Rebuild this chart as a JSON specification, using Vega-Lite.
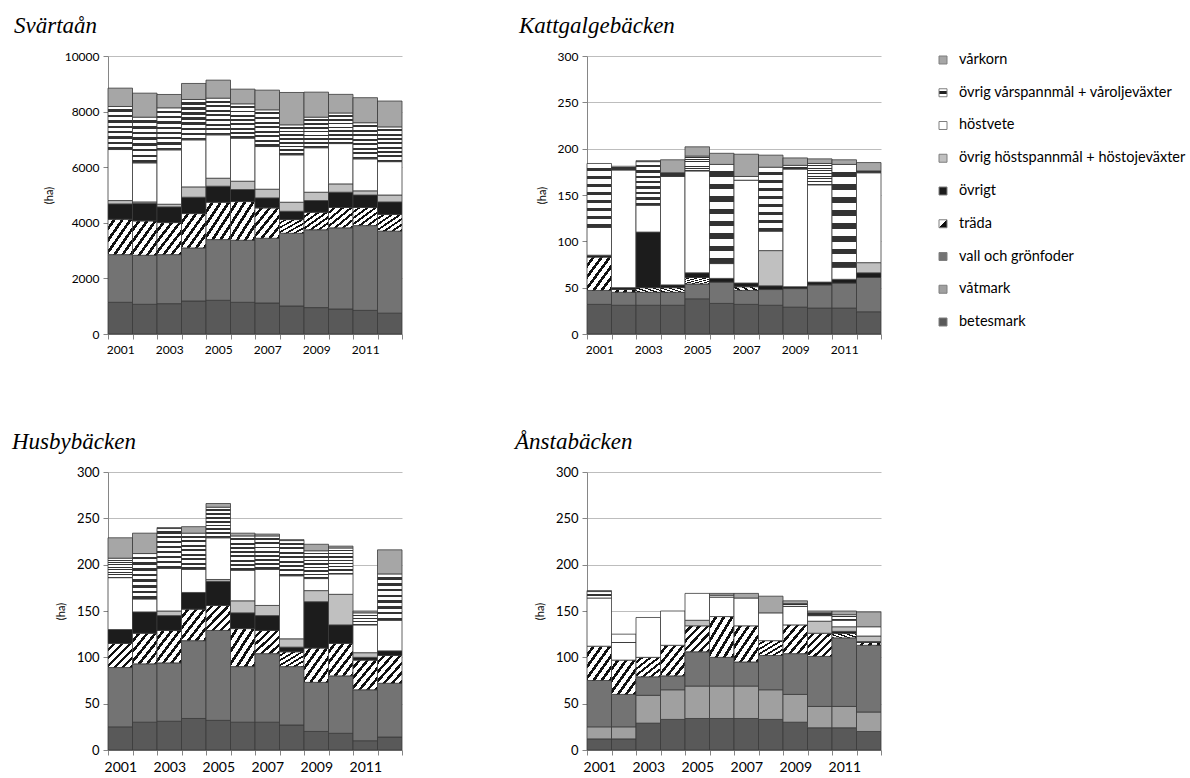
{
  "$schema": "https://vega.github.io/schema/vega-lite/v6.json",
  "padding": {"left": 12, "top": 15, "right": 5, "bottom": 0},
  "data": {"values": [
    {"panel":"Svärtaån","year":"2001","betesmark":1140,"våtmark":0,"vall och grönfoder":1716,"träda":1272,"övrigt":552,"övrig höstspannmål + höstojeväxter":120,"höstvete":1836,"övrig vårspannmål + våroljeväxter":1548,"vårkorn":660},
    {"panel":"Svärtaån","year":"2002","betesmark":1068,"våtmark":0,"vall och grönfoder":1764,"träda":1236,"övrigt":636,"övrig höstspannmål + höstojeväxter":48,"höstvete":1404,"övrig vårspannmål + våroljeväxter":1644,"vårkorn":864},
    {"panel":"Svärtaån","year":"2003","betesmark":1092,"våtmark":0,"vall och grönfoder":1764,"träda":1152,"övrigt":564,"övrig höstspannmål + höstojeväxter":96,"höstvete":1956,"övrig vårspannmål + våroljeväxter":1512,"vårkorn":480},
    {"panel":"Svärtaån","year":"2004","betesmark":1188,"våtmark":0,"vall och grönfoder":1908,"träda":1236,"övrigt":588,"övrig höstspannmål + höstojeväxter":372,"höstvete":1692,"övrig vårspannmål + våroljeväxter":1452,"vårkorn":576},
    {"panel":"Svärtaån","year":"2005","betesmark":1212,"våtmark":0,"vall och grönfoder":2184,"träda":1344,"övrigt":576,"övrig höstspannmål + höstojeväxter":288,"höstvete":1560,"övrig vårspannmål + våroljeväxter":1320,"vårkorn":648},
    {"panel":"Svärtaån","year":"2006","betesmark":1140,"våtmark":0,"vall och grönfoder":2232,"träda":1392,"övrigt":432,"övrig höstspannmål + höstojeväxter":300,"höstvete":1548,"övrig vårspannmål + våroljeväxter":1236,"vårkorn":528},
    {"panel":"Svärtaån","year":"2007","betesmark":1116,"våtmark":0,"vall och grönfoder":2328,"träda":1092,"övrigt":360,"övrig höstspannmål + höstojeväxter":312,"höstvete":1536,"övrig vårspannmål + våroljeväxter":1320,"vårkorn":708},
    {"panel":"Svärtaån","year":"2008","betesmark":1008,"våtmark":0,"vall och grönfoder":2616,"träda":492,"övrigt":300,"övrig höstspannmål + höstojeväxter":324,"höstvete":1704,"övrig vårspannmål + våroljeväxter":1080,"vårkorn":1164},
    {"panel":"Svärtaån","year":"2009","betesmark":950,"våtmark":0,"vall och grönfoder":2800,"träda":630,"övrigt":420,"övrig höstspannmål + höstojeväxter":300,"höstvete":1600,"övrig vårspannmål + våroljeväxter":1100,"vårkorn":900},
    {"panel":"Svärtaån","year":"2010","betesmark":900,"våtmark":0,"vall och grönfoder":2920,"träda":730,"övrigt":550,"övrig höstspannmål + höstojeväxter":300,"höstvete":1450,"övrig vårspannmål + våroljeväxter":1100,"vårkorn":670},
    {"panel":"Svärtaån","year":"2011","betesmark":850,"våtmark":0,"vall och grönfoder":3050,"träda":650,"övrigt":450,"övrig höstspannmål + höstojeväxter":150,"höstvete":1150,"övrig vårspannmål + våroljeväxter":1300,"vårkorn":900},
    {"panel":"Svärtaån","year":"2012","betesmark":750,"våtmark":0,"vall och grönfoder":2950,"träda":600,"övrigt":450,"övrig höstspannmål + höstojeväxter":250,"höstvete":1200,"övrig vårspannmål + våroljeväxter":1250,"vårkorn":930},

    {"panel":"Kattgalgebäcken","year":"2001","betesmark":32,"våtmark":0,"vall och grönfoder":15,"träda":36,"övrigt":2,"övrig höstspannmål + höstojeväxter":0,"höstvete":30,"övrig vårspannmål + våroljeväxter":69,"vårkorn":0},
    {"panel":"Kattgalgebäcken","year":"2002","betesmark":31,"våtmark":0,"vall och grönfoder":14,"träda":3,"övrigt":2,"övrig höstspannmål + höstojeväxter":0,"höstvete":127,"övrig vårspannmål + våroljeväxter":4,"vårkorn":0},
    {"panel":"Kattgalgebäcken","year":"2003","betesmark":31,"våtmark":0,"vall och grönfoder":14,"träda":5,"övrigt":60,"övrig höstspannmål + höstojeväxter":0,"höstvete":29,"övrig vårspannmål + våroljeväxter":47,"vårkorn":1},
    {"panel":"Kattgalgebäcken","year":"2004","betesmark":31,"våtmark":0,"vall och grönfoder":14,"träda":5,"övrigt":3,"övrig höstspannmål + höstojeväxter":0,"höstvete":117,"övrig vårspannmål + våroljeväxter":4,"vårkorn":14},
    {"panel":"Kattgalgebäcken","year":"2005","betesmark":38,"våtmark":0,"vall och grönfoder":16,"träda":7,"övrigt":5,"övrig höstspannmål + höstojeväxter":0,"höstvete":110,"övrig vårspannmål + våroljeväxter":16,"vårkorn":10},
    {"panel":"Kattgalgebäcken","year":"2006","betesmark":33,"våtmark":0,"vall och grönfoder":23,"träda":0,"övrigt":4,"övrig höstspannmål + höstojeväxter":0,"höstvete":16,"övrig vårspannmål + våroljeväxter":107,"vårkorn":12},
    {"panel":"Kattgalgebäcken","year":"2007","betesmark":32,"våtmark":0,"vall och grönfoder":15,"träda":4,"övrigt":4,"övrig höstspannmål + höstojeväxter":0,"höstvete":111,"övrig vårspannmål + våroljeväxter":4,"vårkorn":24},
    {"panel":"Kattgalgebäcken","year":"2008","betesmark":31,"våtmark":0,"vall och grönfoder":17,"träda":0,"övrigt":4,"övrig höstspannmål + höstojeväxter":38,"höstvete":21,"övrig vårspannmål + våroljeväxter":69,"vårkorn":13},
    {"panel":"Kattgalgebäcken","year":"2009","betesmark":29,"våtmark":0,"vall och grönfoder":20,"träda":0,"övrigt":2,"övrig höstspannmål + höstojeväxter":0,"höstvete":127,"övrig vårspannmål + våroljeväxter":4,"vårkorn":8},
    {"panel":"Kattgalgebäcken","year":"2010","betesmark":28,"våtmark":0,"vall och grönfoder":25,"träda":0,"övrigt":3,"övrig höstspannmål + höstojeväxter":0,"höstvete":105,"övrig vårspannmål + våroljeväxter":23,"vårkorn":5},
    {"panel":"Kattgalgebäcken","year":"2011","betesmark":28,"våtmark":0,"vall och grönfoder":27,"träda":0,"övrigt":4,"övrig höstspannmål + höstojeväxter":0,"höstvete":13,"övrig vårspannmål + våroljeväxter":111,"vårkorn":5},
    {"panel":"Kattgalgebäcken","year":"2012","betesmark":24,"våtmark":0,"vall och grönfoder":37,"träda":0,"övrigt":5,"övrig höstspannmål + höstojeväxter":11,"höstvete":97,"övrig vårspannmål + våroljeväxter":2,"vårkorn":9},

    {"panel":"Husbybäcken","year":"2001","betesmark":25,"våtmark":0,"vall och grönfoder":64,"träda":26,"övrigt":15,"övrig höstspannmål + höstojeväxter":0,"höstvete":56,"övrig vårspannmål + våroljeväxter":21,"vårkorn":22},
    {"panel":"Husbybäcken","year":"2002","betesmark":30,"våtmark":0,"vall och grönfoder":63,"träda":33,"övrigt":23,"övrig höstspannmål + höstojeväxter":0,"höstvete":14,"övrig vårspannmål + våroljeväxter":49,"vårkorn":22},
    {"panel":"Husbybäcken","year":"2003","betesmark":31,"våtmark":0,"vall och grönfoder":63,"träda":35,"övrigt":16,"övrig höstspannmål + höstojeväxter":5,"höstvete":46,"övrig vårspannmål + våroljeväxter":43,"vårkorn":1},
    {"panel":"Husbybäcken","year":"2004","betesmark":34,"våtmark":0,"vall och grönfoder":84,"träda":34,"övrigt":18,"övrig höstspannmål + höstojeväxter":0,"höstvete":25,"övrig vårspannmål + våroljeväxter":39,"vårkorn":7},
    {"panel":"Husbybäcken","year":"2005","betesmark":32,"våtmark":0,"vall och grönfoder":97,"träda":27,"övrigt":26,"övrig höstspannmål + höstojeväxter":2,"höstvete":45,"övrig vårspannmål + våroljeväxter":33,"vårkorn":4},
    {"panel":"Husbybäcken","year":"2006","betesmark":30,"våtmark":0,"vall och grönfoder":60,"träda":41,"övrigt":17,"övrig höstspannmål + höstojeväxter":13,"höstvete":33,"övrig vårspannmål + våroljeväxter":37,"vårkorn":3},
    {"panel":"Husbybäcken","year":"2007","betesmark":30,"våtmark":0,"vall och grönfoder":74,"träda":25,"övrigt":16,"övrig höstspannmål + höstojeväxter":11,"höstvete":39,"övrig vårspannmål + våroljeväxter":36,"vårkorn":2},
    {"panel":"Husbybäcken","year":"2008","betesmark":27,"våtmark":0,"vall och grönfoder":63,"träda":16,"övrigt":5,"övrig höstspannmål + höstojeväxter":9,"höstvete":68,"övrig vårspannmål + våroljeväxter":38,"vårkorn":1},
    {"panel":"Husbybäcken","year":"2009","betesmark":20,"våtmark":0,"vall och grönfoder":53,"träda":37,"övrigt":50,"övrig höstspannmål + höstojeväxter":12,"höstvete":13,"övrig vårspannmål + våroljeväxter":30,"vårkorn":7},
    {"panel":"Husbybäcken","year":"2010","betesmark":18,"våtmark":0,"vall och grönfoder":62,"träda":35,"övrigt":20,"övrig höstspannmål + höstojeväxter":33,"höstvete":22,"övrig vårspannmål + våroljeväxter":28,"vårkorn":2},
    {"panel":"Husbybäcken","year":"2011","betesmark":10,"våtmark":0,"vall och grönfoder":55,"träda":32,"övrigt":3,"övrig höstspannmål + höstojeväxter":5,"höstvete":30,"övrig vårspannmål + våroljeväxter":13,"vårkorn":2},
    {"panel":"Husbybäcken","year":"2012","betesmark":14,"våtmark":0,"vall och grönfoder":58,"träda":30,"övrigt":5,"övrig höstspannmål + höstojeväxter":0,"höstvete":33,"övrig vårspannmål + våroljeväxter":50,"vårkorn":26},

    {"panel":"Ånstabäcken","year":"2001","betesmark":12,"våtmark":13,"vall och grönfoder":50,"träda":37,"övrigt":0,"övrig höstspannmål + höstojeväxter":0,"höstvete":52,"övrig vårspannmål + våroljeväxter":7,"vårkorn":1},
    {"panel":"Ånstabäcken","year":"2002","betesmark":12,"våtmark":13,"vall och grönfoder":35,"träda":37,"övrigt":0,"övrig höstspannmål + höstojeväxter":0,"höstvete":19,"övrig vårspannmål + våroljeväxter":9,"vårkorn":0},
    {"panel":"Ånstabäcken","year":"2003","betesmark":29,"våtmark":30,"vall och grönfoder":20,"träda":21,"övrigt":0,"övrig höstspannmål + höstojeväxter":0,"höstvete":43,"övrig vårspannmål + våroljeväxter":0,"vårkorn":0},
    {"panel":"Ånstabäcken","year":"2004","betesmark":33,"våtmark":32,"vall och grönfoder":15,"träda":33,"övrigt":0,"övrig höstspannmål + höstojeväxter":0,"höstvete":37,"övrig vårspannmål + våroljeväxter":0,"vårkorn":0},
    {"panel":"Ånstabäcken","year":"2005","betesmark":34,"våtmark":35,"vall och grönfoder":37,"träda":28,"övrigt":0,"övrig höstspannmål + höstojeväxter":6,"höstvete":29,"övrig vårspannmål + våroljeväxter":0,"vårkorn":0},
    {"panel":"Ånstabäcken","year":"2006","betesmark":34,"våtmark":35,"vall och grönfoder":31,"träda":44,"övrigt":0,"övrig höstspannmål + höstojeväxter":0,"höstvete":21,"övrig vårspannmål + våroljeväxter":2,"vårkorn":2},
    {"panel":"Ånstabäcken","year":"2007","betesmark":34,"våtmark":35,"vall och grönfoder":26,"träda":39,"övrigt":0,"övrig höstspannmål + höstojeväxter":0,"höstvete":30,"övrig vårspannmål + våroljeväxter":0,"vårkorn":5},
    {"panel":"Ånstabäcken","year":"2008","betesmark":33,"våtmark":32,"vall och grönfoder":37,"träda":16,"övrigt":0,"övrig höstspannmål + höstojeväxter":0,"höstvete":30,"övrig vårspannmål + våroljeväxter":0,"vårkorn":18},
    {"panel":"Ånstabäcken","year":"2009","betesmark":30,"våtmark":30,"vall och grönfoder":44,"träda":31,"övrigt":0,"övrig höstspannmål + höstojeväxter":0,"höstvete":20,"övrig vårspannmål + våroljeväxter":3,"vårkorn":3},
    {"panel":"Ånstabäcken","year":"2010","betesmark":24,"våtmark":23,"vall och grönfoder":54,"träda":25,"övrigt":0,"övrig höstspannmål + höstojeväxter":13,"höstvete":6,"övrig vårspannmål + våroljeväxter":3,"vårkorn":2},
    {"panel":"Ånstabäcken","year":"2011","betesmark":24,"våtmark":23,"vall och grönfoder":74,"träda":5,"övrigt":2,"övrig höstspannmål + höstojeväxter":5,"höstvete":7,"övrig vårspannmål + våroljeväxter":6,"vårkorn":4},
    {"panel":"Ånstabäcken","year":"2012","betesmark":20,"våtmark":21,"vall och grönfoder":72,"träda":3,"övrigt":1,"övrig höstspannmål + höstojeväxter":6,"höstvete":10,"övrig vårspannmål + våroljeväxter":0,"vårkorn":16}
  ]},
  "spacing": 56,
  "resolve": {"scale": {"fill": "shared"}},
  "hconcat": [
    {
      "columns": 2,
      "spacing": {"row": 76, "column": 112},
      "resolve": {"scale": {"fill": "shared"}},
      "concat": [
        {
          "width": 294, "height": 278,
          "title": {"text": "Svärtaån", "dx": -94},
          "transform": [
            {"filter": "datum.panel === 'Svärtaån'"},
            {"fold": ["betesmark","våtmark","vall och grönfoder","träda","övrigt","övrig höstspannmål + höstojeväxter","höstvete","övrig vårspannmål + våroljeväxter","vårkorn"], "as": ["crop","ha"]},
            {"stack": "ha", "groupby": ["year"], "as": ["y0","y1"]},
            {"filter": "datum.ha > 0"}
          ],
          "mark": {"type": "bar", "stroke": "#3a3a3a", "strokeWidth": 0.8},
          "encoding": {
            "x": {"field": "year", "type": "ordinal", "title": null, "scale": {"paddingInner": 0, "paddingOuter": 0}},
            "y": {"field": "y0", "type": "quantitative", "title": "(ha)", "scale": {"domain": [0, 10000]}, "axis": {"values": [0,2000,4000,6000,8000,10000]}},
            "y2": {"field": "y1"},
            "fill": {
              "field": "crop", "type": "nominal", "legend": null,
              "scale": {"domain": ["vårkorn","övrig vårspannmål + våroljeväxter","höstvete","övrig höstspannmål + höstojeväxter","övrigt","träda","vall och grönfoder","våtmark","betesmark"],
                        "range": ["#a6a6a6","#ffffff","#ffffff","#c0c0c0","#1c1c1c","#ffffff","#737373","#a0a0a0","#595959"]},
              "condition": [
                {"test": "datum.crop === 'träda'", "value": {"gradient": "linear", "x1": 0, "y1": 0, "x2": 1, "y2": 1, "stops": [
                  {"offset": 0, "color": "#ffffff"}, {"offset": 0.1, "color": "#ffffff"}, {"offset": 0.1, "color": "#111111"}, {"offset": 0.1667, "color": "#111111"},
                  {"offset": 0.1667, "color": "#ffffff"}, {"offset": 0.2667, "color": "#ffffff"}, {"offset": 0.2667, "color": "#111111"}, {"offset": 0.3333, "color": "#111111"},
                  {"offset": 0.3333, "color": "#ffffff"}, {"offset": 0.4333, "color": "#ffffff"}, {"offset": 0.4333, "color": "#111111"}, {"offset": 0.5, "color": "#111111"},
                  {"offset": 0.5, "color": "#ffffff"}, {"offset": 0.6, "color": "#ffffff"}, {"offset": 0.6, "color": "#111111"}, {"offset": 0.6667, "color": "#111111"},
                  {"offset": 0.6667, "color": "#ffffff"}, {"offset": 0.7667, "color": "#ffffff"}, {"offset": 0.7667, "color": "#111111"}, {"offset": 0.8333, "color": "#111111"},
                  {"offset": 0.8333, "color": "#ffffff"}, {"offset": 0.9333, "color": "#ffffff"}, {"offset": 0.9333, "color": "#111111"}, {"offset": 1, "color": "#111111"}]}},
                {"test": "datum.crop === 'övrig vårspannmål + våroljeväxter'", "value": {"gradient": "linear", "x1": 0, "y1": 0, "x2": 0, "y2": 1, "stops": [
                  {"offset": 0, "color": "#ffffff"}, {"offset": 0.07, "color": "#ffffff"}, {"offset": 0.07, "color": "#333333"}, {"offset": 0.125, "color": "#333333"},
                  {"offset": 0.125, "color": "#ffffff"}, {"offset": 0.195, "color": "#ffffff"}, {"offset": 0.195, "color": "#333333"}, {"offset": 0.25, "color": "#333333"},
                  {"offset": 0.25, "color": "#ffffff"}, {"offset": 0.32, "color": "#ffffff"}, {"offset": 0.32, "color": "#333333"}, {"offset": 0.375, "color": "#333333"},
                  {"offset": 0.375, "color": "#ffffff"}, {"offset": 0.445, "color": "#ffffff"}, {"offset": 0.445, "color": "#333333"}, {"offset": 0.5, "color": "#333333"},
                  {"offset": 0.5, "color": "#ffffff"}, {"offset": 0.57, "color": "#ffffff"}, {"offset": 0.57, "color": "#333333"}, {"offset": 0.625, "color": "#333333"},
                  {"offset": 0.625, "color": "#ffffff"}, {"offset": 0.695, "color": "#ffffff"}, {"offset": 0.695, "color": "#333333"}, {"offset": 0.75, "color": "#333333"},
                  {"offset": 0.75, "color": "#ffffff"}, {"offset": 0.82, "color": "#ffffff"}, {"offset": 0.82, "color": "#333333"}, {"offset": 0.875, "color": "#333333"},
                  {"offset": 0.875, "color": "#ffffff"}, {"offset": 0.945, "color": "#ffffff"}, {"offset": 0.945, "color": "#333333"}, {"offset": 1, "color": "#333333"}]}}
              ]
            }
          }
        },
        {
          "width": 294, "height": 278,
          "title": {"text": "Kattgalgebäcken", "dx": -68},
          "transform": [
            {"filter": "datum.panel === 'Kattgalgebäcken'"},
            {"fold": ["betesmark","våtmark","vall och grönfoder","träda","övrigt","övrig höstspannmål + höstojeväxter","höstvete","övrig vårspannmål + våroljeväxter","vårkorn"], "as": ["crop","ha"]},
            {"stack": "ha", "groupby": ["year"], "as": ["y0","y1"]},
            {"filter": "datum.ha > 0"}
          ],
          "mark": {"type": "bar", "stroke": "#3a3a3a", "strokeWidth": 0.8},
          "encoding": {
            "x": {"field": "year", "type": "ordinal", "title": null, "scale": {"paddingInner": 0, "paddingOuter": 0}},
            "y": {"field": "y0", "type": "quantitative", "title": "(ha)", "scale": {"domain": [0, 300]}, "axis": {"values": [0,50,100,150,200,250,300]}},
            "y2": {"field": "y1"},
            "fill": {
              "field": "crop", "type": "nominal", "legend": null,
              "scale": {"domain": ["vårkorn","övrig vårspannmål + våroljeväxter","höstvete","övrig höstspannmål + höstojeväxter","övrigt","träda","vall och grönfoder","våtmark","betesmark"],
                        "range": ["#a6a6a6","#ffffff","#ffffff","#c0c0c0","#1c1c1c","#ffffff","#737373","#a0a0a0","#595959"]},
              "condition": [
                {"test": "datum.crop === 'träda'", "value": {"gradient": "linear", "x1": 0, "y1": 0, "x2": 1, "y2": 1, "stops": [
                  {"offset": 0, "color": "#ffffff"}, {"offset": 0.1, "color": "#ffffff"}, {"offset": 0.1, "color": "#111111"}, {"offset": 0.1667, "color": "#111111"},
                  {"offset": 0.1667, "color": "#ffffff"}, {"offset": 0.2667, "color": "#ffffff"}, {"offset": 0.2667, "color": "#111111"}, {"offset": 0.3333, "color": "#111111"},
                  {"offset": 0.3333, "color": "#ffffff"}, {"offset": 0.4333, "color": "#ffffff"}, {"offset": 0.4333, "color": "#111111"}, {"offset": 0.5, "color": "#111111"},
                  {"offset": 0.5, "color": "#ffffff"}, {"offset": 0.6, "color": "#ffffff"}, {"offset": 0.6, "color": "#111111"}, {"offset": 0.6667, "color": "#111111"},
                  {"offset": 0.6667, "color": "#ffffff"}, {"offset": 0.7667, "color": "#ffffff"}, {"offset": 0.7667, "color": "#111111"}, {"offset": 0.8333, "color": "#111111"},
                  {"offset": 0.8333, "color": "#ffffff"}, {"offset": 0.9333, "color": "#ffffff"}, {"offset": 0.9333, "color": "#111111"}, {"offset": 1, "color": "#111111"}]}},
                {"test": "datum.crop === 'övrig vårspannmål + våroljeväxter'", "value": {"gradient": "linear", "x1": 0, "y1": 0, "x2": 0, "y2": 1, "stops": [
                  {"offset": 0, "color": "#ffffff"}, {"offset": 0.07, "color": "#ffffff"}, {"offset": 0.07, "color": "#333333"}, {"offset": 0.125, "color": "#333333"},
                  {"offset": 0.125, "color": "#ffffff"}, {"offset": 0.195, "color": "#ffffff"}, {"offset": 0.195, "color": "#333333"}, {"offset": 0.25, "color": "#333333"},
                  {"offset": 0.25, "color": "#ffffff"}, {"offset": 0.32, "color": "#ffffff"}, {"offset": 0.32, "color": "#333333"}, {"offset": 0.375, "color": "#333333"},
                  {"offset": 0.375, "color": "#ffffff"}, {"offset": 0.445, "color": "#ffffff"}, {"offset": 0.445, "color": "#333333"}, {"offset": 0.5, "color": "#333333"},
                  {"offset": 0.5, "color": "#ffffff"}, {"offset": 0.57, "color": "#ffffff"}, {"offset": 0.57, "color": "#333333"}, {"offset": 0.625, "color": "#333333"},
                  {"offset": 0.625, "color": "#ffffff"}, {"offset": 0.695, "color": "#ffffff"}, {"offset": 0.695, "color": "#333333"}, {"offset": 0.75, "color": "#333333"},
                  {"offset": 0.75, "color": "#ffffff"}, {"offset": 0.82, "color": "#ffffff"}, {"offset": 0.82, "color": "#333333"}, {"offset": 0.875, "color": "#333333"},
                  {"offset": 0.875, "color": "#ffffff"}, {"offset": 0.945, "color": "#ffffff"}, {"offset": 0.945, "color": "#333333"}, {"offset": 1, "color": "#333333"}]}}
              ]
            }
          }
        },
        {
          "width": 294, "height": 278,
          "title": {"text": "Husbybäcken", "dx": -96},
          "transform": [
            {"filter": "datum.panel === 'Husbybäcken'"},
            {"fold": ["betesmark","våtmark","vall och grönfoder","träda","övrigt","övrig höstspannmål + höstojeväxter","höstvete","övrig vårspannmål + våroljeväxter","vårkorn"], "as": ["crop","ha"]},
            {"stack": "ha", "groupby": ["year"], "as": ["y0","y1"]},
            {"filter": "datum.ha > 0"}
          ],
          "mark": {"type": "bar", "stroke": "#3a3a3a", "strokeWidth": 0.8},
          "encoding": {
            "x": {"field": "year", "type": "ordinal", "title": null, "scale": {"paddingInner": 0, "paddingOuter": 0}, "axis": {"labelFontSize": 14}},
            "y": {"field": "y0", "type": "quantitative", "title": "(ha)", "scale": {"domain": [0, 300]}, "axis": {"values": [0,50,100,150,200,250,300], "labelFontSize": 13}},
            "y2": {"field": "y1"},
            "fill": {
              "field": "crop", "type": "nominal", "legend": null,
              "scale": {"domain": ["vårkorn","övrig vårspannmål + våroljeväxter","höstvete","övrig höstspannmål + höstojeväxter","övrigt","träda","vall och grönfoder","våtmark","betesmark"],
                        "range": ["#a6a6a6","#ffffff","#ffffff","#c0c0c0","#1c1c1c","#ffffff","#737373","#a0a0a0","#595959"]},
              "condition": [
                {"test": "datum.crop === 'träda'", "value": {"gradient": "linear", "x1": 0, "y1": 0, "x2": 1, "y2": 1, "stops": [
                  {"offset": 0, "color": "#ffffff"}, {"offset": 0.1, "color": "#ffffff"}, {"offset": 0.1, "color": "#111111"}, {"offset": 0.1667, "color": "#111111"},
                  {"offset": 0.1667, "color": "#ffffff"}, {"offset": 0.2667, "color": "#ffffff"}, {"offset": 0.2667, "color": "#111111"}, {"offset": 0.3333, "color": "#111111"},
                  {"offset": 0.3333, "color": "#ffffff"}, {"offset": 0.4333, "color": "#ffffff"}, {"offset": 0.4333, "color": "#111111"}, {"offset": 0.5, "color": "#111111"},
                  {"offset": 0.5, "color": "#ffffff"}, {"offset": 0.6, "color": "#ffffff"}, {"offset": 0.6, "color": "#111111"}, {"offset": 0.6667, "color": "#111111"},
                  {"offset": 0.6667, "color": "#ffffff"}, {"offset": 0.7667, "color": "#ffffff"}, {"offset": 0.7667, "color": "#111111"}, {"offset": 0.8333, "color": "#111111"},
                  {"offset": 0.8333, "color": "#ffffff"}, {"offset": 0.9333, "color": "#ffffff"}, {"offset": 0.9333, "color": "#111111"}, {"offset": 1, "color": "#111111"}]}},
                {"test": "datum.crop === 'övrig vårspannmål + våroljeväxter'", "value": {"gradient": "linear", "x1": 0, "y1": 0, "x2": 0, "y2": 1, "stops": [
                  {"offset": 0, "color": "#ffffff"}, {"offset": 0.07, "color": "#ffffff"}, {"offset": 0.07, "color": "#333333"}, {"offset": 0.125, "color": "#333333"},
                  {"offset": 0.125, "color": "#ffffff"}, {"offset": 0.195, "color": "#ffffff"}, {"offset": 0.195, "color": "#333333"}, {"offset": 0.25, "color": "#333333"},
                  {"offset": 0.25, "color": "#ffffff"}, {"offset": 0.32, "color": "#ffffff"}, {"offset": 0.32, "color": "#333333"}, {"offset": 0.375, "color": "#333333"},
                  {"offset": 0.375, "color": "#ffffff"}, {"offset": 0.445, "color": "#ffffff"}, {"offset": 0.445, "color": "#333333"}, {"offset": 0.5, "color": "#333333"},
                  {"offset": 0.5, "color": "#ffffff"}, {"offset": 0.57, "color": "#ffffff"}, {"offset": 0.57, "color": "#333333"}, {"offset": 0.625, "color": "#333333"},
                  {"offset": 0.625, "color": "#ffffff"}, {"offset": 0.695, "color": "#ffffff"}, {"offset": 0.695, "color": "#333333"}, {"offset": 0.75, "color": "#333333"},
                  {"offset": 0.75, "color": "#ffffff"}, {"offset": 0.82, "color": "#ffffff"}, {"offset": 0.82, "color": "#333333"}, {"offset": 0.875, "color": "#333333"},
                  {"offset": 0.875, "color": "#ffffff"}, {"offset": 0.945, "color": "#ffffff"}, {"offset": 0.945, "color": "#333333"}, {"offset": 1, "color": "#333333"}]}}
              ]
            }
          }
        },
        {
          "width": 294, "height": 278,
          "title": {"text": "Ånstabäcken", "dx": -72},
          "transform": [
            {"filter": "datum.panel === 'Ånstabäcken'"},
            {"fold": ["betesmark","våtmark","vall och grönfoder","träda","övrigt","övrig höstspannmål + höstojeväxter","höstvete","övrig vårspannmål + våroljeväxter","vårkorn"], "as": ["crop","ha"]},
            {"stack": "ha", "groupby": ["year"], "as": ["y0","y1"]},
            {"filter": "datum.ha > 0"}
          ],
          "mark": {"type": "bar", "stroke": "#3a3a3a", "strokeWidth": 0.8},
          "encoding": {
            "x": {"field": "year", "type": "ordinal", "title": null, "scale": {"paddingInner": 0, "paddingOuter": 0}, "axis": {"labelFontSize": 14}},
            "y": {"field": "y0", "type": "quantitative", "title": "(ha)", "scale": {"domain": [0, 300]}, "axis": {"values": [0,50,100,150,200,250,300], "labelFontSize": 13}},
            "y2": {"field": "y1"},
            "fill": {
              "field": "crop", "type": "nominal", "legend": null,
              "scale": {"domain": ["vårkorn","övrig vårspannmål + våroljeväxter","höstvete","övrig höstspannmål + höstojeväxter","övrigt","träda","vall och grönfoder","våtmark","betesmark"],
                        "range": ["#a6a6a6","#ffffff","#ffffff","#c0c0c0","#1c1c1c","#ffffff","#737373","#a0a0a0","#595959"]},
              "condition": [
                {"test": "datum.crop === 'träda'", "value": {"gradient": "linear", "x1": 0, "y1": 0, "x2": 1, "y2": 1, "stops": [
                  {"offset": 0, "color": "#ffffff"}, {"offset": 0.1, "color": "#ffffff"}, {"offset": 0.1, "color": "#111111"}, {"offset": 0.1667, "color": "#111111"},
                  {"offset": 0.1667, "color": "#ffffff"}, {"offset": 0.2667, "color": "#ffffff"}, {"offset": 0.2667, "color": "#111111"}, {"offset": 0.3333, "color": "#111111"},
                  {"offset": 0.3333, "color": "#ffffff"}, {"offset": 0.4333, "color": "#ffffff"}, {"offset": 0.4333, "color": "#111111"}, {"offset": 0.5, "color": "#111111"},
                  {"offset": 0.5, "color": "#ffffff"}, {"offset": 0.6, "color": "#ffffff"}, {"offset": 0.6, "color": "#111111"}, {"offset": 0.6667, "color": "#111111"},
                  {"offset": 0.6667, "color": "#ffffff"}, {"offset": 0.7667, "color": "#ffffff"}, {"offset": 0.7667, "color": "#111111"}, {"offset": 0.8333, "color": "#111111"},
                  {"offset": 0.8333, "color": "#ffffff"}, {"offset": 0.9333, "color": "#ffffff"}, {"offset": 0.9333, "color": "#111111"}, {"offset": 1, "color": "#111111"}]}},
                {"test": "datum.crop === 'övrig vårspannmål + våroljeväxter'", "value": {"gradient": "linear", "x1": 0, "y1": 0, "x2": 0, "y2": 1, "stops": [
                  {"offset": 0, "color": "#ffffff"}, {"offset": 0.07, "color": "#ffffff"}, {"offset": 0.07, "color": "#333333"}, {"offset": 0.125, "color": "#333333"},
                  {"offset": 0.125, "color": "#ffffff"}, {"offset": 0.195, "color": "#ffffff"}, {"offset": 0.195, "color": "#333333"}, {"offset": 0.25, "color": "#333333"},
                  {"offset": 0.25, "color": "#ffffff"}, {"offset": 0.32, "color": "#ffffff"}, {"offset": 0.32, "color": "#333333"}, {"offset": 0.375, "color": "#333333"},
                  {"offset": 0.375, "color": "#ffffff"}, {"offset": 0.445, "color": "#ffffff"}, {"offset": 0.445, "color": "#333333"}, {"offset": 0.5, "color": "#333333"},
                  {"offset": 0.5, "color": "#ffffff"}, {"offset": 0.57, "color": "#ffffff"}, {"offset": 0.57, "color": "#333333"}, {"offset": 0.625, "color": "#333333"},
                  {"offset": 0.625, "color": "#ffffff"}, {"offset": 0.695, "color": "#ffffff"}, {"offset": 0.695, "color": "#333333"}, {"offset": 0.75, "color": "#333333"},
                  {"offset": 0.75, "color": "#ffffff"}, {"offset": 0.82, "color": "#ffffff"}, {"offset": 0.82, "color": "#333333"}, {"offset": 0.875, "color": "#333333"},
                  {"offset": 0.875, "color": "#ffffff"}, {"offset": 0.945, "color": "#ffffff"}, {"offset": 0.945, "color": "#333333"}, {"offset": 1, "color": "#333333"}]}}
              ]
            }
          }
        }
      ]
    },
    {
      "width": 8, "height": 270,
      "transform": [
        {"filter": "datum.panel === 'Svärtaån' && datum.year === '2001'"},
        {"fold": ["vårkorn","övrig vårspannmål + våroljeväxter","höstvete","övrig höstspannmål + höstojeväxter","övrigt","träda","vall och grönfoder","våtmark","betesmark"], "as": ["crop","ha"]}
      ],
      "encoding": {
        "y": {"field": "crop", "type": "nominal", "axis": null, "scale": {"domain": ["vårkorn","övrig vårspannmål + våroljeväxter","höstvete","övrig höstspannmål + höstojeväxter","övrigt","träda","vall och grönfoder","våtmark","betesmark"], "paddingInner": 0.756, "paddingOuter": 0}}
      },
      "layer": [
        {
          "mark": {"type": "bar", "stroke": "#7f7f7f", "strokeWidth": 1},
          "encoding": {
            "fill": {
              "field": "crop", "type": "nominal", "legend": null,
              "scale": {"domain": ["vårkorn","övrig vårspannmål + våroljeväxter","höstvete","övrig höstspannmål + höstojeväxter","övrigt","träda","vall och grönfoder","våtmark","betesmark"],
                        "range": ["#a6a6a6","#ffffff","#ffffff","#c0c0c0","#1c1c1c","#ffffff","#737373","#a0a0a0","#595959"]},
              "condition": [
                {"test": "datum.crop === 'träda'", "value": {"gradient": "linear", "x1": 0, "y1": 0, "x2": 1, "y2": 1, "stops": [{"offset": 0, "color": "#ffffff"}, {"offset": 0.5, "color": "#ffffff"}, {"offset": 0.5, "color": "#111111"}, {"offset": 1, "color": "#111111"}]}},
                {"test": "datum.crop === 'övrig vårspannmål + våroljeväxter'", "value": {"gradient": "linear", "x1": 0, "y1": 0, "x2": 0, "y2": 1, "stops": [{"offset": 0, "color": "#ffffff"}, {"offset": 0.3, "color": "#ffffff"}, {"offset": 0.3, "color": "#222222"}, {"offset": 0.7, "color": "#222222"}, {"offset": 0.7, "color": "#ffffff"}, {"offset": 1, "color": "#ffffff"}]}}
              ]
            }
          }
        },
        {
          "mark": {"type": "text", "align": "left", "baseline": "middle", "dx": 16, "font": "Lato", "fontSize": 14.5, "color": "#000000"},
          "encoding": {"text": {"field": "crop"}}
        }
      ]
    }
  ],
  "config": {
    "font": "Lato",
    "view": {"stroke": null},
    "title": {"anchor": "start", "frame": "group", "font": "Liberation Serif", "fontStyle": "italic", "fontWeight": "normal", "fontSize": 23, "color": "#000000", "offset": 12},
    "axis": {"labelFont": "Lato", "labelColor": "#000000", "titleFont": "Lato", "titleFontWeight": "normal", "titleColor": "#000000", "domainColor": "#868686", "tickColor": "#868686", "gridColor": "#bdbdbd"},
    "axisX": {"labelAngle": 0, "labelFontSize": 12, "tickBand": "extent", "tickSize": 5, "labelPadding": 5, "grid": false, "labelOverlap": false, "labelExpr": "parseInt(datum.value) % 2 === 1 ? datum.label : ''"},
    "axisY": {"labelFontSize": 12, "format": "d", "tickSize": 5, "labelPadding": 4, "titleFontSize": 11, "titlePadding": 10, "grid": true}
  }
}
